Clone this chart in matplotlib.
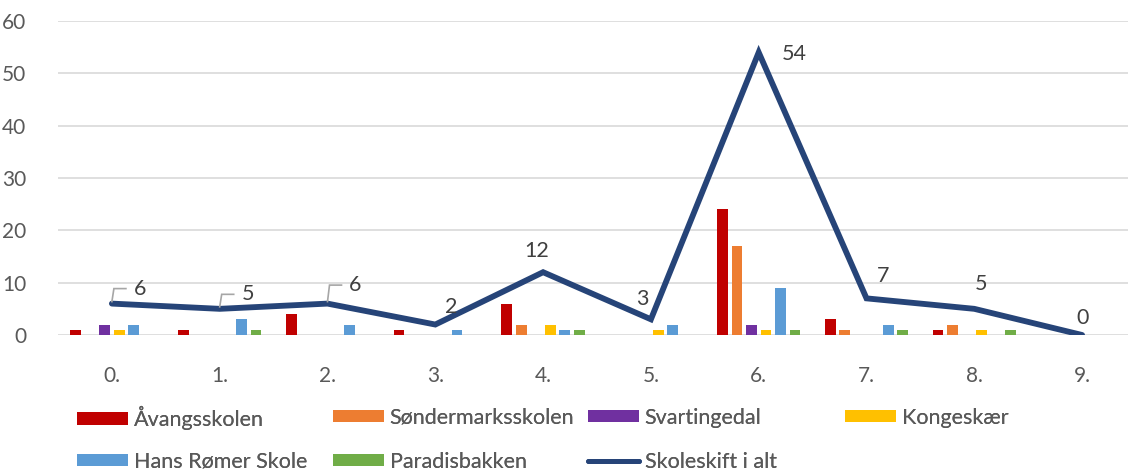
import matplotlib
matplotlib.use("Agg")
import matplotlib.pyplot as plt
import numpy as np
from matplotlib.patches import Patch
from matplotlib.lines import Line2D
from matplotlib.transforms import Affine2D

categories = ["0.", "1.", "2.", "3.", "4.", "5.", "6.", "7.", "8.", "9."]
aavangsskolen = [1, 1, 4, 1, 6, 0, 24, 3, 1, 0]
soendermarksskolen = [0, 0, 0, 0, 2, 0, 17, 1, 2, 0]
svartingedal = [2, 0, 0, 0, 0, 0, 2, 0, 0, 0]
kongeskaer = [1, 0, 0, 0, 2, 1, 1, 0, 1, 0]
hans_roemer = [2, 3, 2, 1, 1, 2, 9, 2, 0, 0]
paradisbakken = [0, 1, 0, 0, 1, 0, 1, 1, 1, 0]
skoleskift_i_alt = [6, 5, 6, 2, 12, 3, 54, 7, 5, 0]

series_names = ["Åvangsskolen", "Søndermarksskolen", "Svartingedal",
                "Kongeskær", "Hans Rømer Skole", "Paradisbakken"]
series_values = [aavangsskolen, soendermarksskolen, svartingedal,
                 kongeskaer, hans_roemer, paradisbakken]
series_colors = ["#C00000", "#ED7D31", "#7030A0", "#FFC000", "#5B9BD5", "#70AD47"]
line_name = "Skoleskift i alt"
line_color = "#264478"

# label offsets in pixels (dx, dy up) relative to the data point
label_offsets = [(28, 15), (28, 14.5), (28, 18.5), (16, 18), (-6, 21),
                 (-9, 20), (36, -2), (17, 22), (7, 25), (0, 17)]
leader = [True, True, True, False, False, False, False, False, False, False]

FONT = "Lato"
plt.rcParams["font.family"] = [FONT, "DejaVu Sans"]

W, H = 1128, 474
fig = plt.figure(figsize=(W / 100, H / 100), dpi=100)
ax = fig.add_axes([58 / W, (H - 335) / H, (W - 58) / W, 314 / H])

x = np.arange(len(categories))
slot = 0.1345
bw = 0.10
for i, (vals, col) in enumerate(zip(series_values, series_colors)):
    ax.bar(x + (i - 2.5) * slot, vals, width=bw, color=col, zorder=2)

ax.plot(x, skoleskift_i_alt, color=line_color, lw=4.2, zorder=3,
        solid_joinstyle="miter", solid_capstyle="round")

ax.set_xlim(-0.5, -0.5 + (W - 58) / 107.8)
ax.set_ylim(0, 60)

for xi, v, (dx, dy), ld in zip(x, skoleskift_i_alt, label_offsets, leader):
    ax.annotate(str(v), xy=(xi, v), xytext=(dx, dy), textcoords="offset pixels",
                ha="center", va="center", fontsize=15.5, color="#404040", zorder=4)
    if ld:
        px, py = ax.transData.transform((xi, v))
        tr = Affine2D().translate(px, py)
        ax.add_line(Line2D([0, 2, 14], [2, dy, dy], transform=tr,
                           color="#A6A6A6", lw=1.2, zorder=4,
                           solid_joinstyle="miter"))

ax.set_yticks(np.arange(0, 61, 10))
ax.set_xticks(x)
ax.set_xticklabels(categories)
ax.grid(axis="y", color="#D9D9D9", lw=1.2, zorder=0)
ax.set_axisbelow(True)
for s in ax.spines.values():
    s.set_visible(False)
ax.tick_params(axis="both", length=0, labelsize=15, labelcolor="#595959")
ax.tick_params(axis="y", pad=23)
ax.tick_params(axis="x", pad=22)

# legend entries, one per slot in a 4-column grid
handles = [Patch(facecolor=c, edgecolor="none") for c in series_colors]
handles.append(Line2D([0], [0], color=line_color, lw=3.5, solid_capstyle="round"))
labels = series_names + [line_name]
col_x = [77, 333, 588, 845]
row_y = [418, 462]
for k, (h, lab) in enumerate(zip(handles, labels)):
    r, c = divmod(k, 4)
    lg = fig.legend(handles=[h], labels=[lab], loc="center left",
                    bbox_to_anchor=(col_x[c] / W, 1 - row_y[r] / H),
                    frameon=False, fontsize=15.5, handlelength=2.35, handleheight=0.5,
                    handletextpad=0.28, borderpad=0, borderaxespad=0)
    for t in lg.get_texts():
        t.set_color("#595959")
    fig.add_artist(lg)

fig.savefig("out.png", dpi=100)
